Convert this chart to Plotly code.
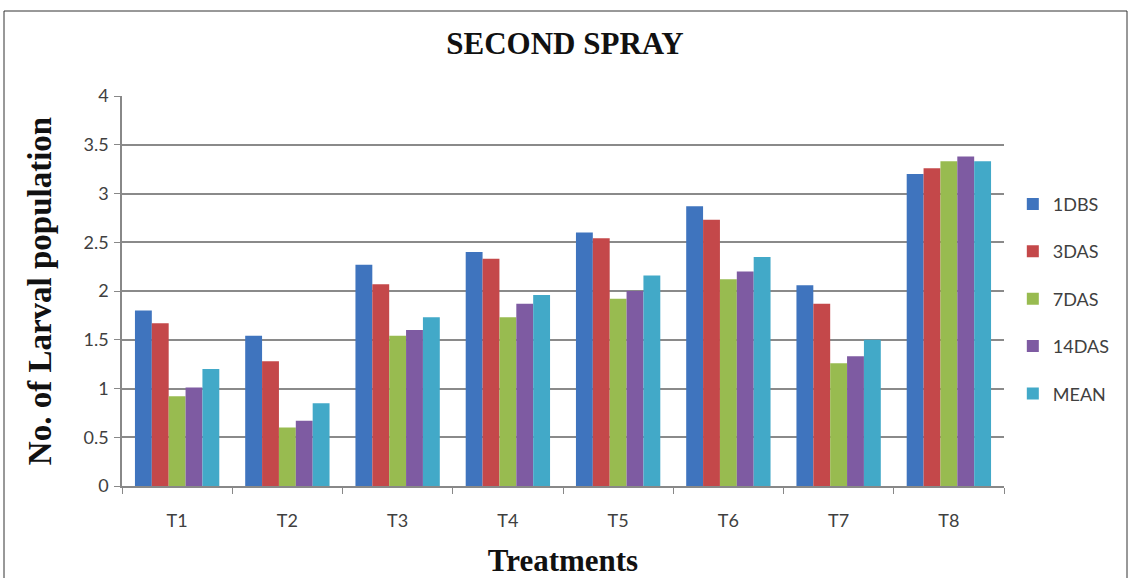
import plotly.graph_objects as go

categories = ["T1", "T2", "T3", "T4", "T5", "T6", "T7", "T8"]
series_names = ["1DBS", "3DAS", "7DAS", "14DAS", "MEAN"]
dbs1 = [1.80, 1.54, 2.27, 2.40, 2.60, 2.87, 2.06, 3.20]
das3 = [1.67, 1.28, 2.07, 2.33, 2.54, 2.73, 1.87, 3.26]
das7 = [0.92, 0.60, 1.54, 1.73, 1.92, 2.12, 1.26, 3.33]
das14 = [1.01, 0.67, 1.60, 1.87, 2.00, 2.20, 1.33, 3.38]
mean = [1.20, 0.85, 1.73, 1.96, 2.16, 2.35, 1.50, 3.33]
y_ticks = [0, 0.5, 1, 1.5, 2, 2.5, 3, 3.5, 4]

colors = ["#3F74BE", "#C4484A", "#98BB50", "#7E5BA2", "#42A9C8"]
values = [dbs1, das3, das7, das14, mean]

fig = go.Figure()
for name, vals, col in zip(series_names, values, colors):
    fig.add_trace(go.Bar(x=categories, y=vals, name=name, marker_color=col,
                         marker_line_width=0, legendgroup=name))

tick_font = dict(family="Lato, Liberation Sans, sans-serif", size=18, color="#404040")
serif_bold = "Liberation Serif, Times New Roman, serif"

fig.update_layout(
    width=1130, height=578,
    margin=dict(l=122, r=126, t=96, b=92, autoexpand=False),
    paper_bgcolor="white", plot_bgcolor="white",
    barmode="group", bargap=0.235, bargroupgap=0,
    title=dict(text="<b>SECOND SPRAY</b>", x=0.5, xanchor="center", y=1 - 43 / 578,
               yanchor="middle", font=dict(family=serif_bold, size=31, color="#111")),
    legend=dict(x=1.01, xanchor="left", y=0.77, yanchor="top",
                font=dict(family="Lato, Liberation Sans, sans-serif", size=18, color="#404040"),
                tracegroupgap=21, bgcolor="rgba(0,0,0,0)", itemwidth=30),
    xaxis=dict(
        type="category", showgrid=False, showline=True, linecolor="#888888", linewidth=1.5,
        ticks="outside", tickson="boundaries", ticklen=6, tickcolor="#888888",
        tickfont=tick_font, ticklabelstandoff=18,
        title=dict(text="<b>Treatments</b>", font=dict(family=serif_bold, size=31, color="#111"),
                   standoff=20),
    ),
    yaxis=dict(
        range=[0, 4], tickvals=y_ticks, ticktext=[f"{v:g}" for v in y_ticks],
        showgrid=True, gridcolor="#8a8a8a", gridwidth=2,
        showline=True, linecolor="#888888", linewidth=1.5,
        ticks="outside", ticklen=6, tickcolor="#888888",
        tickfont=tick_font, ticklabelstandoff=2, zeroline=False,
        title=dict(text="<b>No. of Larval population</b>",
                   font=dict(family=serif_bold, size=33, color="#111"), standoff=22),
    ),
    shapes=[dict(type="rect", xref="paper", yref="paper",
                 x0=(4 - 122) / 882, x1=(1127 - 122) / 882,
                 y0=-0.3, y1=(486 - 11) / 390,
                 line=dict(color="#333333", width=1), fillcolor="rgba(0,0,0,0)",
                 layer="below")],
)

fig.write_html("out.html", config={"displayModeBar": False},
               post_script="document.body.style.margin='0';document.body.style.overflow='hidden';")
